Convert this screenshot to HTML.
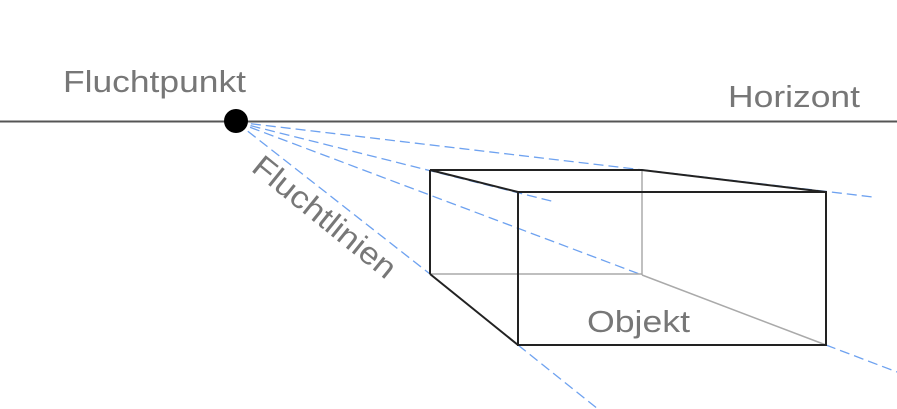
<!DOCTYPE html>
<html><head><meta charset="utf-8"><style>html,body{margin:0;padding:0;background:#fff}svg{display:block}</style></head>
<body>
<svg width="897" height="409" viewBox="0 0 897 409" xmlns="http://www.w3.org/2000/svg" font-family="Liberation Sans, Arial, sans-serif" fill="#777">
<line x1="0" y1="121.5" x2="897" y2="121.5" stroke="#555" stroke-width="2"/>
<g stroke="#6ea2f0" stroke-width="1.3" stroke-dasharray="10,5" fill="none">
<line x1="236" y1="122" x2="873" y2="197"/>
<line x1="236" y1="122" x2="555" y2="202"/>
<line x1="236" y1="122" x2="642" y2="275"/>
<line x1="826" y1="345" x2="897" y2="372"/>
<line x1="236" y1="122" x2="430" y2="274"/>
<line x1="518" y1="345" x2="598" y2="409"/>
</g>
<g stroke="#aaa" stroke-width="1.5" fill="none">
<line x1="642" y1="170" x2="642" y2="275"/>
<line x1="430" y1="274" x2="642" y2="274"/>
<line x1="642" y1="275" x2="826" y2="345"/>
</g>
<g stroke="#222" stroke-width="2" fill="none">
<polyline points="518,192 430,170 642,170 826,192"/>
<line x1="430" y1="170" x2="430" y2="274"/>
<line x1="430" y1="274" x2="518" y2="345"/>
<rect x="518" y="192" width="308" height="153"/>
</g>
<circle cx="236" cy="121" r="12" fill="#000"/>
<text x="63" y="92" font-size="31" textLength="183" lengthAdjust="spacingAndGlyphs">Fluchtpunkt</text>
<text x="728" y="107" font-size="31" textLength="132" lengthAdjust="spacingAndGlyphs">Horizont</text>
<text x="587" y="332" font-size="31" textLength="103" lengthAdjust="spacingAndGlyphs">Objekt</text>
<text x="0" y="0" font-size="31" textLength="175" lengthAdjust="spacingAndGlyphs" transform="translate(250,170) rotate(39)">Fluchtlinien</text>
</svg>
</body></html>
